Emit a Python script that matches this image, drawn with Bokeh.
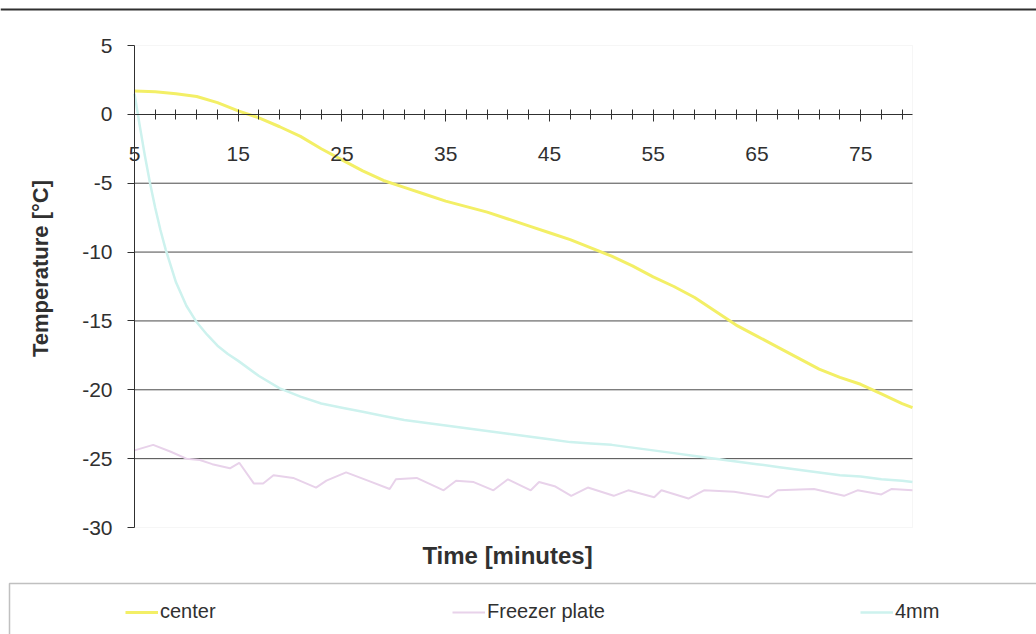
import math
from bokeh.plotting import figure
from bokeh.models import (Range1d, FixedTicker, Legend, LegendItem, Label,
                          BoxAnnotation)
from bokeh.embed import file_html
from bokeh.resources import INLINE

# ---- data ----
center_x = [5, 7, 9, 11, 13, 15, 17, 19, 21, 23, 25, 27, 29, 31, 33, 35, 37, 39,
            41, 43, 45, 47, 49, 51, 53, 55, 57, 59, 61, 63, 65, 67, 69, 71, 73,
            75, 77, 79, 80]
center_y = [1.7, 1.65, 1.5, 1.3, 0.85, 0.25, -0.25, -0.9, -1.6, -2.5, -3.3, -4.1,
            -4.8, -5.3, -5.8, -6.3, -6.7, -7.1, -7.6, -8.1, -8.6, -9.1, -9.7,
            -10.3, -11.0, -11.8, -12.5, -13.3, -14.3, -15.3, -16.1, -16.9, -17.7,
            -18.5, -19.1, -19.6, -20.3, -21.0, -21.3]

plate_x = [5, 6.8, 8.5, 10, 11.3, 12.5, 14.2, 15.1, 16.5, 17.4, 18.4, 20.3, 22.5,
           23.5, 25.4, 27.5, 29.6, 30.2, 32.2, 34.8, 36, 37.7, 39.6, 41, 43.2, 44,
           45.5, 47.1, 48.7, 51.2, 52.6, 55.1, 55.8, 58.4, 59.9, 62.8, 66.1, 67,
           70.5, 73.4, 74.7, 77, 78, 80]
plate_y = [-24.4, -24.0, -24.5, -25.0, -25.1, -25.4, -25.7, -25.3, -26.8, -26.8,
           -26.2, -26.4, -27.1, -26.6, -26.0, -26.6, -27.2, -26.5, -26.4, -27.3,
           -26.6, -26.7, -27.3, -26.5, -27.3, -26.7, -27.0, -27.7, -27.1, -27.7,
           -27.3, -27.8, -27.3, -27.9, -27.3, -27.4, -27.8, -27.3, -27.2, -27.7,
           -27.3, -27.6, -27.2, -27.3]

mm4_x = [5, 5.5, 6, 6.5, 7, 7.5, 8, 9, 10, 11, 12, 13, 14, 15, 17, 19, 21, 23, 25,
         27, 29, 31, 33, 35, 37, 39, 41, 43, 45, 47, 49, 51, 53, 55, 57, 59, 61,
         63, 65, 67, 69, 71, 73, 75, 77, 79, 80]
mm4_y = [1.5, -0.8, -3.0, -5.0, -6.8, -8.4, -9.8, -12.2, -13.9, -15.1, -16.0,
         -16.8, -17.4, -17.9, -19.0, -19.9, -20.5, -21.0, -21.3, -21.6, -21.9,
         -22.2, -22.4, -22.6, -22.8, -23.0, -23.2, -23.4, -23.6, -23.8, -23.9,
         -24.0, -24.2, -24.4, -24.6, -24.8, -25.0, -25.2, -25.4, -25.6, -25.8,
         -26.0, -26.2, -26.3, -26.5, -26.6, -26.7]

series_names = ["center", "Freezer plate", "4mm"]
x_labels = [5, 15, 25, 35, 45, 55, 65, 75]
x_minor = [7, 9, 11, 13, 17, 19, 21, 23, 27, 29, 31, 33, 37, 39, 41, 43, 47, 49,
           51, 53, 57, 59, 61, 63, 67, 69, 71, 73, 77, 79]
y_ticks = [-30, -25, -20, -15, -10, -5, 0, 5]
y_grid = [-25, -20, -15, -10, -5]
XMIN, XMAX = 5, 80
YMIN, YMAX = -30, 5

FONT = "Liberation Sans"
DARK = "#303030"

# ---- layout (pixels of the 1036x634 canvas) ----
W, H = 1036, 634
PL, PR, PT, PB = 134, 912, 45, 527          # plot area
sxu = (PR - PL) / (XMAX - XMIN)
syu = (PB - PT) / (YMAX - YMIN)
x_start = XMIN - PL / sxu
x_end = XMAX + (W - PR) / sxu
y_end = YMAX + PT / syu
y_start = YMIN - (H - PB) / syu


def fx(px):
    return x_start + px / sxu


def fy(py):
    return y_end - py / syu


p = figure(width=W, height=H, output_backend="svg", toolbar_location=None,
           x_range=Range1d(x_start, x_end), y_range=Range1d(y_start, y_end),
           min_border=0)
p.outline_line_color = None
p.background_fill_color = "white"
p.border_fill_color = "white"
p.xgrid.visible = False
p.ygrid.visible = False

# plot-area frame (faint) and gridlines
p.add_layout(BoxAnnotation(left=XMIN, right=XMAX, bottom=YMIN, top=YMAX,
                           fill_alpha=0, line_color="#e2e2e2", line_width=1,
                           level="underlay"))
p.segment(x0=XMIN, x1=XMAX, y0=y_grid, y1=y_grid, line_color="#4a4a4a",
          line_width=1)

# x axis at y = 0
xa = p.xaxis[0]
xa.fixed_location = 0
xa.bounds = (XMIN, XMAX)
xa.ticker = FixedTicker(ticks=x_labels, minor_ticks=x_minor)
xa.axis_line_color = DARK
xa.major_tick_line_color = DARK
xa.minor_tick_line_color = DARK
xa.major_tick_in = 5
xa.major_tick_out = 7
xa.minor_tick_in = 5
xa.minor_tick_out = 5
xa.major_label_standoff = 26
xa.major_label_text_font = FONT
xa.major_label_text_font_size = "21px"
xa.major_label_text_color = DARK

ya = p.yaxis[0]
ya.fixed_location = XMIN
ya.bounds = (YMIN, YMAX)
ya.ticker = FixedTicker(ticks=y_ticks)
ya.major_label_overrides = {t: str(t) for t in y_ticks}
ya.minor_tick_line_color = None
ya.axis_line_color = DARK
ya.major_tick_line_color = DARK
ya.major_tick_in = 0
ya.major_tick_out = 7
ya.major_label_standoff = 15
ya.major_label_text_font = FONT
ya.major_label_text_font_size = "21px"
ya.major_label_text_color = DARK

r_center = p.line(center_x, center_y, line_color="#f3ef66", line_width=3)
r_plate = p.line(plate_x, plate_y, line_color="#e8d2ea", line_width=2)
r_4mm = p.line(mm4_x, mm4_y, line_color="#cdf2ee", line_width=2.5)

# axis titles
p.add_layout(Label(x=fx(507), y=fy(555), text="Time [minutes]",
                   text_align="center", text_baseline="middle",
                   text_font=FONT, text_font_style="bold",
                   text_font_size="24px", text_color=DARK))
p.add_layout(Label(x=fx(40), y=fy(268), text="Temperature [°C]", angle=math.pi / 2,
                   text_align="center", text_baseline="middle",
                   text_font=FONT, text_font_style="bold",
                   text_font_size="22px", text_color=DARK))

# legend box and top rule
p.add_layout(BoxAnnotation(left=fx(9), right=fx(1045), top=fy(583), bottom=fy(645),
                           fill_alpha=0, line_color=DARK, line_width=1.5))
p.add_layout(BoxAnnotation(left=fx(0), right=fx(W), top=fy(8), bottom=fy(10),
                           fill_color=DARK, fill_alpha=1, line_alpha=0))

for name, rend, vx in zip(series_names, [r_center, r_plate, r_4mm], [125, 452, 860]):
    leg = Legend(items=[LegendItem(label=name, renderers=[rend])],
                 location=(vx, 11), orientation="horizontal",
                 padding=0, margin=0, spacing=0,
                 glyph_width=33, glyph_height=20, label_height=20,
                 label_standoff=2, border_line_color=None,
                 background_fill_alpha=0,
                 label_text_font=FONT, label_text_font_size="20px",
                 label_text_color=DARK)
    p.add_layout(leg)

open("out.html", "w").write(file_html(p, INLINE))
